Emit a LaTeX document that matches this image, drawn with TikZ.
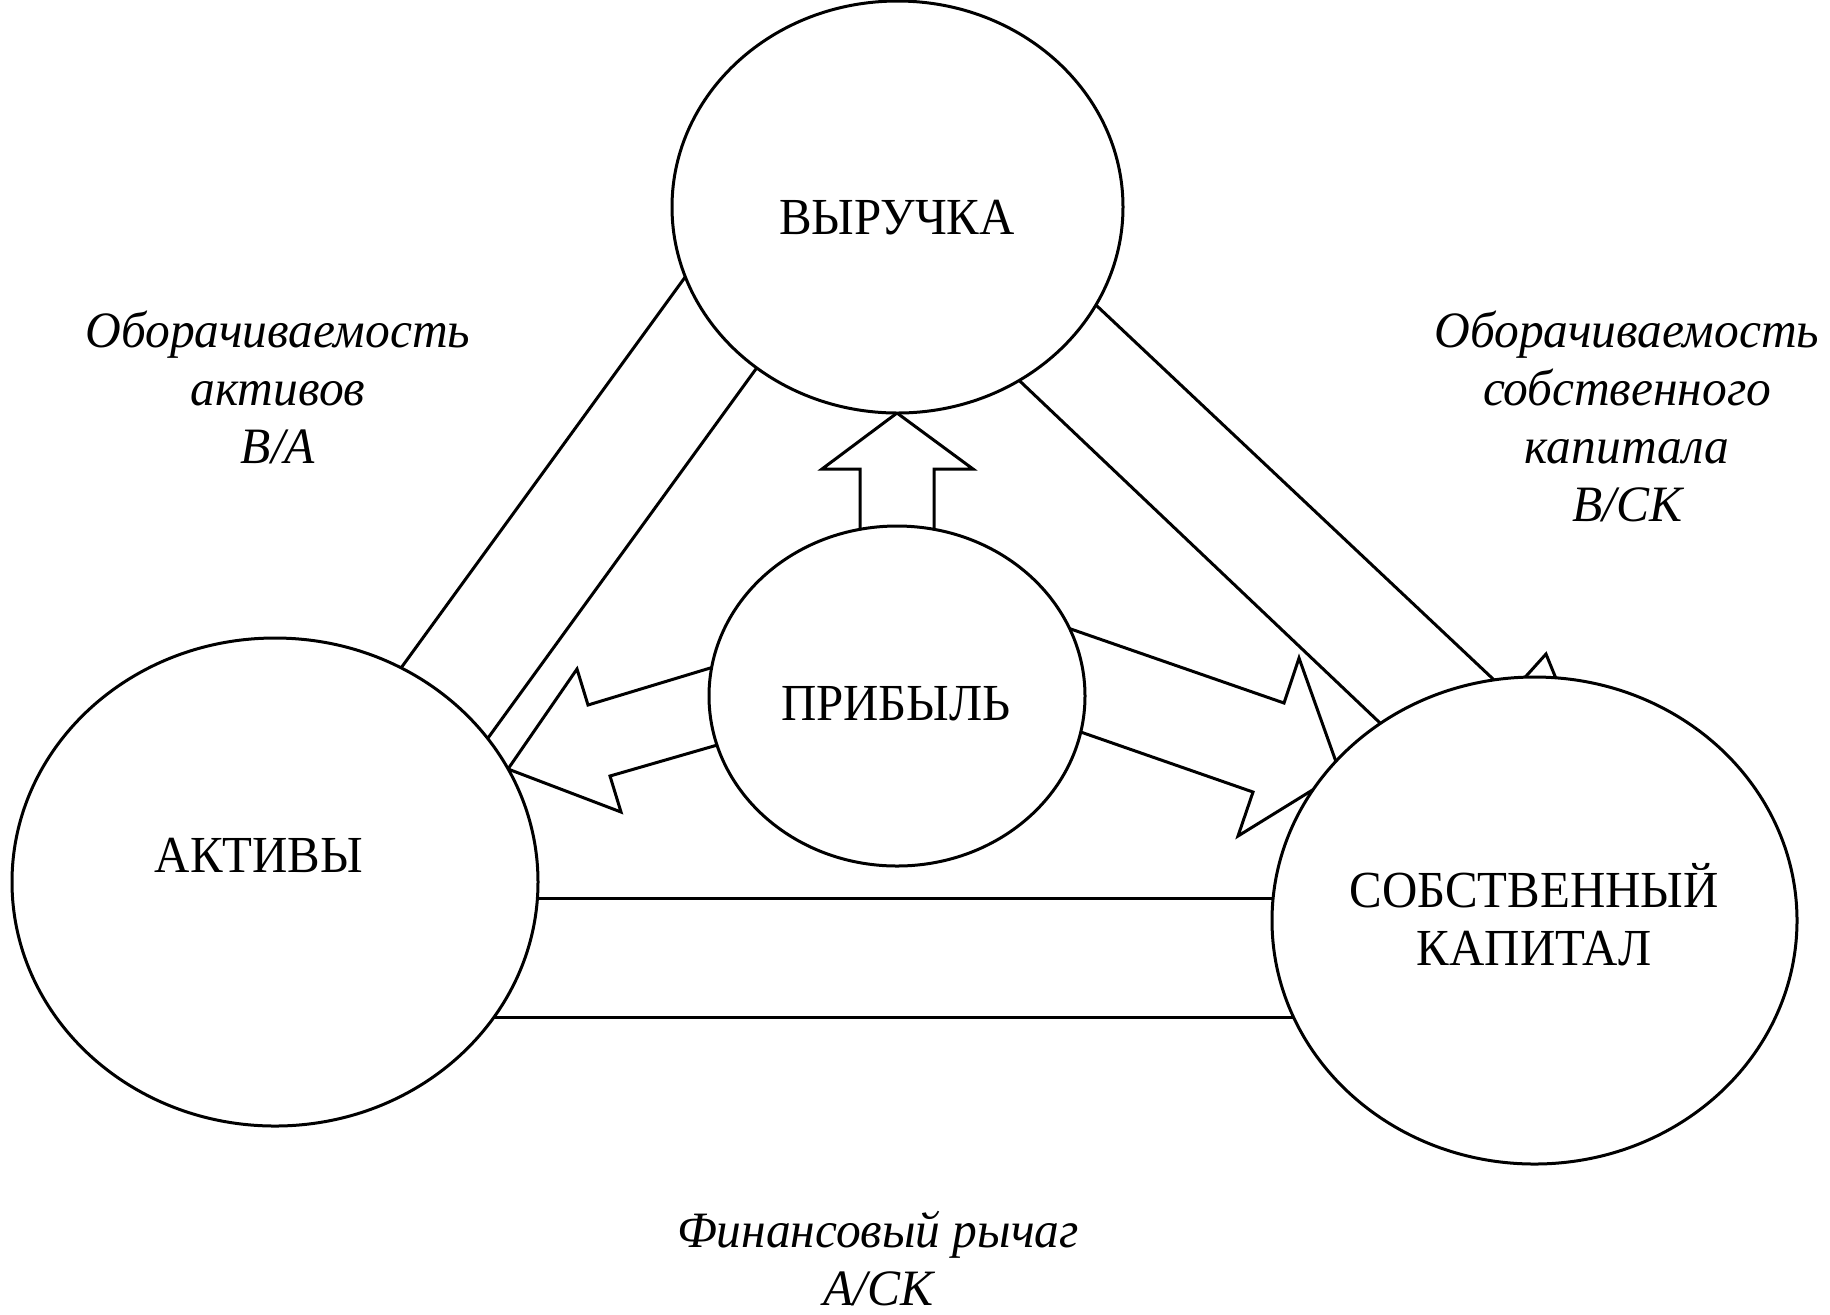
\documentclass[tikz,border=0pt]{standalone}
\usepackage{fontspec}
\setmainfont{Liberation Serif}
\newfontfamily\capfont[FakeStretch=0.94]{Liberation Serif}
\newfontfamily\labfont[FakeStretch=0.97]{Liberation Serif}
\usetikzlibrary{shapes.geometric}
\begin{document}
\begin{tikzpicture}[x=0.5pt,y=-0.5pt,
  line width=1.5pt,
  oval/.style={draw, fill=white, ellipse, inner sep=0pt},
  conn/.style={draw, shorten <=-25pt, shorten >=-25pt},
  blockarrow/.style={draw, fill=white},
  captxt/.style={font=\capfont\fontsize{26}{29}\selectfont, align=center, inner sep=0pt},
  lbl/.style={font=\labfont\fontsize{25.5}{29}\selectfont\itshape, align=center, inner sep=0pt}]
\useasboundingbox (0,0) rectangle (1830,1314);
% connector end points
\coordinate (l1a) at (683,280);  \coordinate (l1b) at (401,668);
\coordinate (l2a) at (753,373);  \coordinate (l2b) at (488,738);
\coordinate (r1a) at (1097,306); \coordinate (r1b) at (1492,678);
\coordinate (r2a) at (1024,385); \coordinate (r2b) at (1379,722);
\coordinate (b1a) at (538,898);  \coordinate (b1b) at (1272,898);
\coordinate (b2a) at (495,1017); \coordinate (b2b) at (1293,1017);
\draw[conn] (l1a) -- (l1b);
\draw[conn] (l2a) -- (l2b);
\draw[conn] (r1a) -- (r1b);
\draw[conn] (r2a) -- (r2b);
\draw[conn] (b1a) -- (b1b);
\draw[conn] (b2a) -- (b2b);
% block arrows
\draw[blockarrow] (860,560) -- (860,469) -- (822,469) -- (897,413) -- (973,469) -- (934,469) -- (934,560) -- cycle;
\draw[blockarrow] (740,659) -- (588,705) -- (577,669) -- (508,769) -- (621,812) -- (610,776) -- (745,737) -- cycle;
\draw[blockarrow] (1042,619) -- (1284,703) -- (1299,658) -- (1340,773) -- (1238,836) -- (1253,792) -- (1052,722) -- cycle;
\draw[blockarrow] (1519,684) -- (1546,654) -- (1559,686) -- cycle;
% ellipses
\node[oval, minimum width=225.5pt, minimum height=206pt] (rev) at (897.5,207) {};
\node[oval, minimum width=188pt, minimum height=170pt] (prof) at (897,696) {};
\node[oval, minimum width=263pt, minimum height=244pt] (assets) at (275,882) {};
\node[oval, minimum width=262.5pt, minimum height=243.5pt] (eq) at (1534.5,920.5) {};
% texts
\node[captxt] (trev) at (897,218) {ВЫРУЧКА};
\node[captxt] (tprof) at (896,704) {ПРИБЫЛЬ};
\node[captxt] (tassets) at (259,855) {АКТИВЫ};
\node[captxt] (teq) at (1534,915) {СОБСТВЕННЫЙ\\КАПИТАЛ};
\node[lbl] (lab1) at (278,387) {Оборачиваемость\\активов\\В/А};
\node[lbl] (lab2) at (1627,416) {Оборачиваемость\\собственного\\капитала\\В/СК};
\node[lbl] (lab3) at (878,1259) {Финансовый рычаг\\А/СК};
\end{tikzpicture}
\end{document}
